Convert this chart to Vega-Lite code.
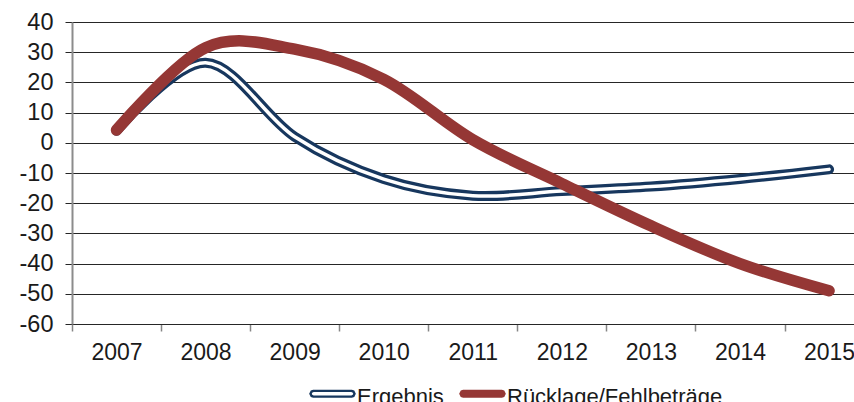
{
  "$schema": "https://vega.github.io/schema/vega-lite/v6.json",
  "width": 782,
  "height": 302,
  "autosize": {"type": "none"},
  "padding": {"left": 72, "top": 22, "right": 0, "bottom": 78},
  "background": "white",
  "config": {"view": {"stroke": null}, "font": "Liberation Sans"},
  "data": {
    "values": [
      {"year": 2007, "series": "Ergebnis", "value": 4},
      {"year": 2008, "series": "Ergebnis", "value": 26.5},
      {"year": 2009, "series": "Ergebnis", "value": 2},
      {"year": 2010, "series": "Ergebnis", "value": -12},
      {"year": 2011, "series": "Ergebnis", "value": -17.5},
      {"year": 2012, "series": "Ergebnis", "value": -16},
      {"year": 2013, "series": "Ergebnis", "value": -14.5},
      {"year": 2014, "series": "Ergebnis", "value": -12},
      {"year": 2015, "series": "Ergebnis", "value": -8.8},
      {"year": 2007, "series": "Rücklage/Fehlbeträge", "value": 4.2},
      {"year": 2008, "series": "Rücklage/Fehlbeträge", "value": 31.5},
      {"year": 2009, "series": "Rücklage/Fehlbeträge", "value": 31},
      {"year": 2010, "series": "Rücklage/Fehlbeträge", "value": 21},
      {"year": 2011, "series": "Rücklage/Fehlbeträge", "value": 1},
      {"year": 2012, "series": "Rücklage/Fehlbeträge", "value": -13.5},
      {"year": 2013, "series": "Rücklage/Fehlbeträge", "value": -27.5},
      {"year": 2014, "series": "Rücklage/Fehlbeträge", "value": -40},
      {"year": 2015, "series": "Rücklage/Fehlbeträge", "value": -49}
    ]
  },
  "encoding": {
    "x": {
      "field": "year",
      "type": "quantitative",
      "scale": {"domain": [2006.5, 2015.28], "nice": false, "zero": false},
      "axis": {
        "values": [2006.5, 2007.5, 2008.5, 2009.5, 2010.5, 2011.5, 2012.5, 2013.5, 2014.5],
        "labelExpr": "'' + (datum.value + 0.5)",
        "labelOffset": 44.5,
        "title": null,
        "grid": false,
        "tickColor": "#868686",
        "tickSize": 7,
        "tickWidth": 1.5,
        "domainColor": "#262626",
        "domainWidth": 1,
        "labelFont": "Liberation Sans",
        "labelFontSize": 23,
        "labelColor": "#1a1a1a",
        "labelPadding": 10,
        "labelBaseline": "top",
        "labelFlush": false,
        "labelOverlap": false
      }
    },
    "y": {
      "field": "value",
      "type": "quantitative",
      "scale": {"domain": [-60, 40], "nice": false},
      "axis": {
        "values": [-60, -50, -40, -30, -20, -10, 0, 10, 20, 30, 40],
        "labelExpr": "'' + datum.value",
        "title": null,
        "grid": true,
        "gridColor": "#262626",
        "gridWidth": 1,
        "tickColor": "#262626",
        "tickSize": 7,
        "domainColor": "#8c8c8c",
        "domainWidth": 2,
        "labelFont": "Liberation Sans",
        "labelFontSize": 23.5,
        "labelColor": "#1a1a1a",
        "labelPadding": 12
      }
    },
    "stroke": {
      "field": "series",
      "type": "nominal",
      "scale": {"domain": ["Ergebnis", "Rücklage/Fehlbeträge"], "range": ["#17375E", "#953735"]},
      "legend": {
        "orient": "none",
        "legendX": 237,
        "legendY": 348,
        "direction": "horizontal",
        "title": null,
        "symbolType": "M-0.87,-0.13L0.87,-0.13L0.95,-0.1L1,0L0.95,0.1L0.87,0.13L-0.87,0.13L-0.95,0.1L-1,0L-0.95,-0.1Z",
        "symbolSize": 1936,
        "symbolStrokeWidth": 2.4,
        "labelFont": "Liberation Sans",
        "labelFontSize": 22,
        "labelColor": "#1a1a1a",
        "labelOffset": 1,
        "labelLimit": 400,
        "columnPadding": 11,
        "padding": 0,
        "encode": {
          "symbols": {
            "update": {
              "fill": {"signal": "datum.value === 'Ergebnis' ? '#ffffff' : '#953735'"},
              "strokeWidth": {"value": 2.4},
              "opacity": {"value": 1}
            }
          },
          "labels": {"update": {"dy": {"value": 3}}}
        }
      }
    }
  },
  "layer": [
    {
      "transform": [{"filter": "datum.series === 'Ergebnis'"}],
      "mark": {"type": "line", "interpolate": "cardinal", "strokeWidth": 10, "strokeCap": "round", "strokeJoin": "round"}
    },
    {
      "transform": [{"filter": "datum.series === 'Ergebnis'"}],
      "mark": {"type": "line", "interpolate": "cardinal", "strokeWidth": 3.5, "strokeCap": "round", "strokeJoin": "round"},
      "encoding": {"stroke": {"value": "#ffffff"}}
    },
    {
      "transform": [{"filter": "datum.series === 'Rücklage/Fehlbeträge'"}],
      "mark": {"type": "line", "interpolate": "cardinal", "strokeWidth": 11.5, "strokeCap": "round", "strokeJoin": "round"}
    }
  ]
}
